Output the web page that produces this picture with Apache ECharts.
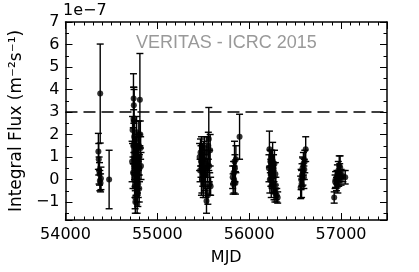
<!DOCTYPE html>
<html>
<head>
<meta charset="utf-8">
<script src="https://cdn.jsdelivr.net/npm/echarts@6/dist/echarts.min.js"></script>
<style>
html,body{margin:0;padding:0;background:#fff;}
#c{width:419px;height:272px;}
</style>
</head>
<body>
<div id="c"></div>
<script>
// Data (flux in units of 1e-7 m^-2 s^-1)
const mjd = [
  54358,54362,54366,54370,54374,54378,54382,54386,
  54475,
  54725,54730,54735,54738,54740,54742,54744,54746,54748,54750,54752,54754,54756,54758,54760,54762,54764,54766,54768,54770,54772,54774,54776,54778,54780,54782,54784,54786,54788,54790,54792,54795,54798,54800,54803,54806,54810,54815,54818,54822,
  55460,55465,55470,55475,55480,55485,55490,55495,55500,55505,55510,55515,55520,55525,55530,55535,55540,55545,55550,55555,55560,55565,55570,55575,55580,
  55820,55825,55830,55835,55840,55845,55850,55855,55895,
  56215,56220,56225,56230,56235,56240,56245,56250,56255,56260,56265,56270,56275,56280,56285,56290,56300,56310,
  56560,56565,56570,56575,56580,56585,56590,56595,56600,56605,56615,
  56925,56935,56940,56950,56955,56960,56965,56970,56975,56980,56985,56990,57000,57020,57045
];
const flux = [
  1.25,0.9,0.4,0.25,-0.05,3.82,-0.15,0.05,
  0.0,
  0.8,2.2,0.3,1.5,2.7,3.6,3.3,2.6,1.9,0.9,0.5,0.1,-0.3,-0.8,-1.0,1.2,0.6,0.2,-0.1,0.7,1.8,2.1,0.4,-0.5,-1.1,0.0,1.0,0.3,-0.6,1.4,-0.2,0.8,2.0,1.5,-0.4,0.5,3.55,2.0,1.4,0.6,
  1.0,0.4,1.2,0.8,0.6,0.0,1.1,0.3,-0.2,0.9,0.5,1.4,0.2,-0.3,0.7,-0.95,1.2,0.4,-0.7,1.5,1.8,0.6,-0.2,1.3,-0.3,
  0.1,-0.2,0.3,0.0,0.8,0.5,-0.15,0.9,1.9,
  0.5,1.35,0.0,0.8,0.3,-0.3,0.6,0.2,0.85,-0.1,0.5,-0.5,0.7,-0.6,0.25,-0.4,-0.7,-0.8,
  -0.35,0.0,-0.2,0.2,0.5,0.35,0.7,0.1,0.45,0.8,1.35,
  -0.8,-0.1,0.0,-0.2,0.1,0.25,-0.3,0.4,0.0,0.6,0.3,0.55,0.1,0.15,0.1
];
const fluxErr = [
  0.8,0.7,0.6,0.5,0.45,2.2,0.4,0.5,
  1.3,
  0.9,0.6,0.7,0.8,2.0,0.5,0.8,1.4,0.7,0.6,0.5,0.5,0.5,0.5,0.5,0.7,0.6,0.6,0.6,0.8,0.8,0.7,0.5,0.5,0.4,0.6,0.6,0.7,0.6,0.6,0.6,0.6,0.6,0.5,0.6,0.6,2.05,0.6,0.5,0.6,
  0.6,0.5,0.6,0.7,1.3,0.6,0.5,0.6,0.6,0.8,0.6,0.5,0.7,0.5,0.6,0.55,0.7,0.5,0.4,0.6,1.4,0.7,0.5,0.7,0.4,
  0.5,0.45,0.5,0.6,0.9,0.6,0.5,0.6,1.0,
  0.6,0.8,0.6,0.5,0.6,0.5,0.7,0.6,0.8,0.5,0.6,0.4,0.6,0.4,0.5,0.5,0.3,0.25,
  0.5,0.45,0.6,0.5,0.5,0.6,0.5,0.5,0.45,0.5,0.55,
  0.25,0.3,0.35,0.3,0.3,0.4,0.3,0.4,0.3,0.45,0.4,0.5,0.35,0.25,0.3
];
const xTicks = [54000, 55000, 56000, 57000];
const yTicks = [-1, 0, 1, 2, 3, 4, 5, 6, 7];
const threshold = 3;
const xRange = [54000, 57500];
const yRange = [-1.8, 7];

const pts = mjd.map((m, i) => [m, flux[i], fluxErr[i]]);
const FONT = 'DejaVu Sans';

const chart = echarts.init(document.getElementById('c'), null, {renderer: 'canvas'});

function xAxisCfg(pos, show) {
  return {
    type: 'value', position: pos, min: xRange[0], max: xRange[1], interval: 1000,
    axisLine: {show: true, onZero: false, lineStyle: {color: '#000', width: 1.5}},
    axisTick: {show: true, inside: true, length: 7, lineStyle: {color: '#000', width: 1}},
    minorTick: {show: true, splitNumber: 10, length: 3.5, lineStyle: {color: '#000', width: 1}},
    splitLine: {show: false},
    axisLabel: {
      show: show, color: '#000', fontFamily: FONT, fontSize: 16, margin: 7,
      formatter: v => xTicks.indexOf(v) >= 0 ? String(v) : ''
    },
    name: show ? 'MJD' : '', nameLocation: 'middle', nameGap: 30,
    nameTextStyle: {color: '#000', fontFamily: FONT, fontSize: 16}
  };
}
function yAxisCfg(pos, show) {
  return {
    type: 'value', position: pos, min: yRange[0], max: yRange[1], splitNumber: 9,
    axisLine: {show: true, onZero: false, lineStyle: {color: '#000', width: 1.5}},
    axisTick: {show: true, inside: true, length: 7, lineStyle: {color: '#000', width: 1}},
    minorTick: {show: true, splitNumber: 2, length: 3.5, lineStyle: {color: '#000', width: 1}},
    splitLine: {show: false},
    axisLabel: {
      show: show, color: '#000', fontFamily: FONT, fontSize: 16, margin: 6,
      formatter: v => yTicks.indexOf(Math.round(v * 1000) / 1000) >= 0 ? (v < 0 ? '\u2212' + Math.abs(v) : String(v)) : ''
    },
    name: show ? 'Integral Flux (m\u207B\u00B2s\u207B\u00B9)' : '', nameLocation: 'middle', nameGap: 34,
    nameRotate: 90,
    nameTextStyle: {color: '#000', fontFamily: FONT, fontSize: 17}
  };
}

chart.setOption({
  animation: false,
  backgroundColor: '#fff',
  grid: {left: 63, right: 32, top: 22, bottom: 52, containLabel: false},
  xAxis: [xAxisCfg('bottom', true), xAxisCfg('top', false)],
  yAxis: [yAxisCfg('left', true), yAxisCfg('right', false)],
  graphic: [
    {type: 'text', left: 63, top: 3, style: {text: '1e\u22127', fill: '#000', font: '16px "DejaVu Sans"'}},
    {type: 'text', left: 136, top: 34,
     style: {text: 'VERITAS - ICRC 2015', fill: '#999999', font: '18px "Liberation Sans"'}}
  ],
  series: [
    {
      type: 'custom', xAxisIndex: 0, yAxisIndex: 0, data: pts, z: 3,
      renderItem: function (params, api) {
        const x = api.value(0), y = api.value(1), e = api.value(2);
        const hi = api.coord([x, y + e]);
        const lo = api.coord([x, y - e]);
        const st = {stroke: '#000', lineWidth: 1.4};
        const cw = 3.5;
        return {
          type: 'group',
          children: [
            {type: 'line', shape: {x1: hi[0], y1: hi[1], x2: lo[0], y2: lo[1]}, style: st},
            {type: 'line', shape: {x1: hi[0] - cw, y1: hi[1], x2: hi[0] + cw, y2: hi[1]}, style: st},
            {type: 'line', shape: {x1: lo[0] - cw, y1: lo[1], x2: lo[0] + cw, y2: lo[1]}, style: st}
          ]
        };
      }
    },
    {
      type: 'scatter', xAxisIndex: 0, yAxisIndex: 0, data: pts, z: 4,
      symbol: 'circle', symbolSize: 6,
      itemStyle: {color: '#000'},
      markLine: {
        silent: true, symbol: ['none', 'none'], label: {show: false},
        lineStyle: {color: '#000', width: 1.5, type: [12, 6]},
        data: [{yAxis: threshold}]
      }
    }
  ]
});
</script>
</body>
</html>
